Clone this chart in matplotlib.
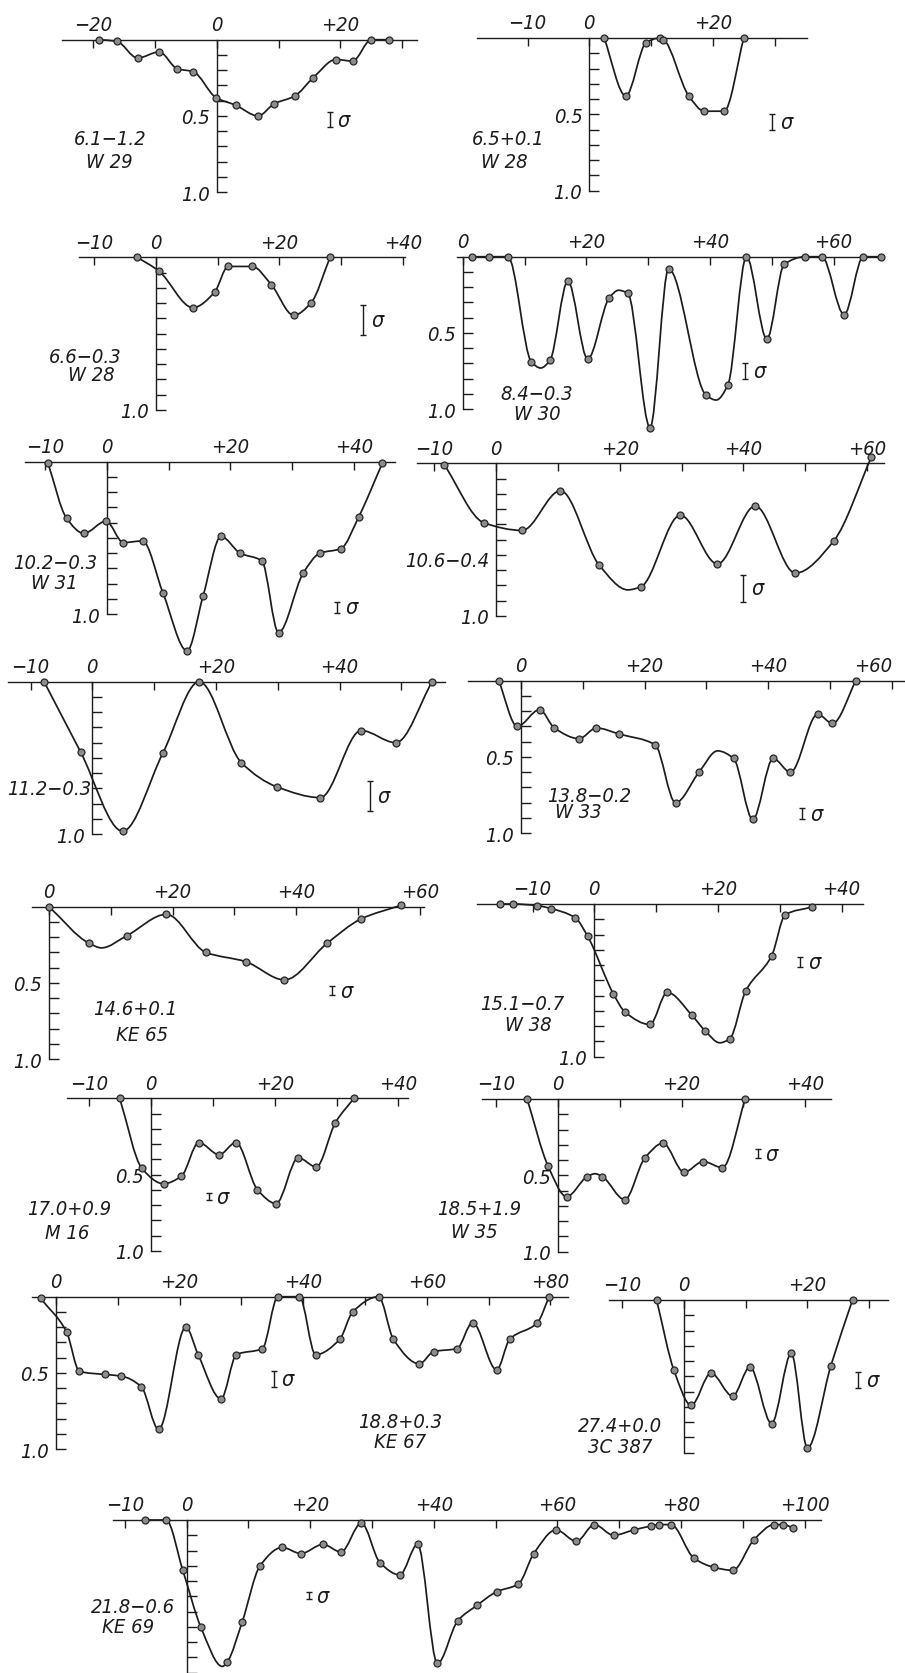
import numpy as np
import matplotlib
matplotlib.use("Agg")
import matplotlib.pyplot as plt
from matplotlib.path import Path
from matplotlib.patches import PathPatch
from matplotlib import font_manager

# ---- data: velocity (km/s) and optical depth ----
v1 = [-19.0, -16.2, -12.8, -9.3, -6.4, -3.8, -0.1, 3.1, 6.7, 9.3, 12.6, 15.6, 19.3, 22.0, 25.0, 27.9]
d1 = [0.0, 0.01, 0.12, 0.08, 0.19, 0.21, 0.38, 0.43, 0.50, 0.42, 0.37, 0.25, 0.13, 0.14, 0.0, 0.0]

v2 = [2.4, 5.9, 9.2, 11.4, 12.0, 16.1, 18.6, 21.8, 25.0]
d2 = [0.0, 0.38, 0.03, 0.0, 0.01, 0.38, 0.48, 0.48, 0.0]

v3 = [-3.0, 0.5, 6.0, 9.5, 11.7, 15.6, 18.7, 22.3, 25.1, 28.2]
d3 = [0.0, 0.09, 0.33, 0.23, 0.06, 0.06, 0.18, 0.38, 0.30, 0.0]

v4 = [1.5, 4.2, 7.3, 11.1, 14.1, 17.0, 20.2, 23.7, 26.7, 30.3, 33.3, 39.4, 42.9,
      45.9, 49.2, 52.0, 55.4, 58.1, 61.7, 64.8, 67.6]
d4 = [0.0, 0.0, 0.0, 0.69, 0.68, 0.16, 0.67, 0.27, 0.24, 1.12, 0.08, 0.91, 0.84,
      0.0, 0.54, 0.05, 0.0, 0.0, 0.38, 0.0, 0.0]
kv4 = [12.6, 25.2, 41.0]
kd4 = [0.73, 0.22, 0.94]

v5 = [-9.5, -6.5, -3.7, -0.1, 2.7, 5.8, 9.1, 13.0, 15.6, 18.5, 21.6, 25.1, 27.8,
      31.8, 34.5, 37.9, 40.8, 44.6]
d5 = [0.01, 0.37, 0.47, 0.39, 0.53, 0.52, 0.86, 1.24, 0.88, 0.49, 0.60, 0.65, 1.12,
      0.73, 0.60, 0.57, 0.36, 0.01]

v6 = [-8.4, -2.0, 4.2, 10.4, 16.7, 23.4, 29.8, 35.8, 41.9, 48.4, 54.6, 60.7]
d6 = [0.01, 0.39, 0.44, 0.18, 0.67, 0.81, 0.34, 0.66, 0.28, 0.72, 0.51, -0.04]
kv6 = [21.3]
kd6 = [0.83]

v7 = [-7.8, -1.9, 4.9, 11.4, 17.3, 24.1, 29.9, 36.9, 43.5, 49.1, 55.0]
d7 = [0.0, 0.46, 0.98, 0.47, 0.0, 0.53, 0.69, 0.76, 0.32, 0.40, 0.0]

v8 = [-3.6, -0.6, 3.0, 5.4, 9.4, 12.2, 15.9, 21.7, 25.0, 28.8, 34.4, 37.5, 40.8,
      43.6, 48.0, 50.4, 54.2]
d8 = [0.0, 0.30, 0.19, 0.31, 0.38, 0.31, 0.35, 0.42, 0.80, 0.60, 0.51, 0.91, 0.51,
      0.60, 0.22, 0.28, 0.0]
kv8 = [31.8]
kd8 = [0.46]

v9 = [0.0, 6.5, 12.6, 19.0, 25.4, 31.8, 38.1, 45.0, 50.5, 57.0]
d9 = [0.0, 0.24, 0.19, 0.05, 0.30, 0.36, 0.48, 0.24, 0.08, -0.01]
kv9 = [8.5]
kd9 = [0.27]

v10 = [-15.3, -13.2, -9.3, -7.0, -3.1, -1.1, 3.1, 5.0, 9.0, 11.8, 15.8, 17.9,
       21.9, 24.5, 28.7, 30.9, 35.2]
d10 = [0.0, 0.0, 0.01, 0.03, 0.09, 0.21, 0.59, 0.71, 0.79, 0.58, 0.73, 0.83,
       0.885, 0.57, 0.34, 0.07, 0.02]
kv10 = [20.3]
kd10 = [0.91]

v11 = [-5.1, -1.5, 2.0, 4.9, 7.7, 11.0, 13.7, 17.2, 20.2, 23.8, 26.7, 29.8, 32.8]
d11 = [0.0, 0.46, 0.56, 0.51, 0.29, 0.37, 0.29, 0.60, 0.69, 0.39, 0.45, 0.16, 0.0]

v12 = [-5.0, -1.6, 1.4, 4.7, 7.2, 10.8, 14.0, 17.0, 20.4, 23.5, 26.6, 30.3]
d12 = [0.0, 0.44, 0.64, 0.51, 0.51, 0.66, 0.39, 0.29, 0.48, 0.41, 0.45, 0.0]
kv12 = [6.0]
kd12 = [0.49]

v13 = [-2.5, 1.7, 3.8, 7.9, 10.5, 13.8, 16.6, 21.0, 23.0, 26.7, 29.2, 33.4, 35.9,
       39.4, 42.0, 45.9, 48.0, 52.2, 54.6, 58.8, 61.1, 64.9, 67.4, 71.3, 73.4, 77.9, 79.8]
d13 = [0.01, 0.23, 0.49, 0.51, 0.52, 0.59, 0.87, 0.20, 0.38, 0.67, 0.38, 0.34, 0.0,
       0.0, 0.38, 0.28, 0.10, 0.0, 0.28, 0.44, 0.36, 0.34, 0.17, 0.48, 0.28, 0.17, 0.0]

v14 = [-4.4, -1.6, 1.2, 4.4, 7.9, 10.7, 14.2, 17.4, 20.0, 23.8, 27.3]
d14 = [0.0, 0.46, 0.69, 0.48, 0.63, 0.44, 0.81, 0.35, 0.97, 0.43, 0.0]

v15 = [-6.7, -3.3, -0.6, 2.3, 6.6, 9.0, 11.9, 15.5, 18.5, 22.1, 25.0, 28.3, 31.3,
       34.5, 37.4, 40.6, 43.9, 47.0, 50.2, 53.7, 56.2, 59.8, 63.1, 66.0, 69.1, 72.4,
       75.1, 76.5, 78.4, 82.1, 85.3, 88.4, 91.8, 95.1, 96.5, 98.1]
d15 = [0.0, 0.0, 0.33, 0.70, 0.93, 0.67, 0.30, 0.18, 0.22, 0.16, 0.21, 0.02, 0.28,
       0.36, 0.16, 0.94, 0.66, 0.56, 0.47, 0.42, 0.22, 0.065, 0.14, 0.03, 0.10, 0.065,
       0.04, 0.03, 0.03, 0.25, 0.31, 0.33, 0.13, 0.03, 0.03, 0.05]
kv15 = [5.8]
kd15 = [0.96]

sources = [["6.1−1.2", "W 29"], ["6.5+0.1", "W 28"], ["6.6−0.3", "W 28"],
           ["8.4−0.3", "W 30"], ["10.2−0.3", "W 31"], ["10.6−0.4"], ["11.2−0.3"],
           ["13.8−0.2", "W 33"], ["14.6+0.1", "KE 65"], ["15.1−0.7", "W 38"],
           ["17.0+0.9", "M 16"], ["18.5+1.9", "W 35"], ["18.8+0.3", "KE 67"],
           ["27.4+0.0", "3C 387"], ["21.8−0.6", "KE 69"]]

# ---- layout (pixels of the 905x1674 page) ----
W, H = 905, 1674
SX = 6.18     # px per km/s
SY = 152.5    # px per unit depth


def pick_narrow_font():
    # look for a condensed / narrow italic face; fall back to DejaVu Sans
    best, best_score = None, None
    for f in font_manager.fontManager.ttflist:
        n = f.name
        st = f.stretch
        narrow = ("Narrow" in n or "Condensed" in n
                  or st in ("condensed", "semi-condensed")
                  or (isinstance(st, (int, float)) and 300 <= st < 500))
        if not narrow or "Extra" in n or "Ultra" in n:
            continue
        score = (0 if f.style in ("italic", "oblique") else 1,
                 0 if f.weight in (400, "normal", "regular") else 1,
                 0 if "Liberation" in n else 1)
        if best_score is None or score < best_score:
            best, best_score = f, score
    return best


nf = pick_narrow_font()
if nf is not None:
    FP = font_manager.FontProperties(fname=nf.fname, size=14.5)
else:
    FP = font_manager.FontProperties(family="DejaVu Sans", style="italic", size=13)
FS = FP.get_size()

INK = "#1c1c1c"

panels = [
    dict(v=v1, d=d1, org=(216.7, 40.7), ext=(-25.0, 32.4), xl=[-20, 0, 20], yl=[0.5, 1.0],
         txt=[(-17.3, 0.65), (-17.3, 0.80)], sig=(18.3, 0.476, 0.574)),
    dict(v=v2, d=d2, org=(589.3, 39.0), ext=(-18.2, 35.2), xl=[-10, 0, 20], yl=[0.5, 1.0],
         txt=[(-13.2, 0.66), (-13.7, 0.81)], sig=(29.6, 0.50, 0.60)),
    dict(v=v3, d=d3, org=(155.8, 258.3), ext=(-12.5, 40.3), xl=[-10, 0, 20, 40], yl=[1.0],
         txt=[(-11.4, 0.65), (-10.4, 0.77)], sig=(33.6, 0.31, 0.51)),
    dict(v=v4, d=d4, kv=kv4, kd=kd4, org=(462.8, 257.7), ext=(-1.0, 68.0), xl=[0, 20, 40, 60],
         yl=[0.5, 1.0], txt=[(12.0, 0.90), (12.0, 1.03)], sig=(45.7, 0.70, 0.80)),
    dict(v=v5, d=d5, org=(106.7, 462.7), ext=(-13.3, 46.7), xl=[-10, 0, 20, 40], yl=[1.0],
         txt=[(-8.4, 0.66), (-8.4, 0.79)], sig=(37.3, 0.92, 0.99)),
    dict(v=v6, d=d6, kv=kv6, kd=kd6, org=(496.2, 464.3), ext=(-12.8, 62.8),
         xl=[-10, 0, 20, 40, 60], yl=[1.0], txt=[(-7.9, 0.64)], sig=(40.0, 0.73, 0.91)),
    dict(v=v7, d=d7, org=(92.3, 682.7), ext=(-13.6, 57.0), xl=[-10, 0, 20, 40], yl=[1.0],
         txt=[(-7.0, 0.70)], sig=(44.9, 0.65, 0.85)),
    dict(v=v8, d=d8, kv=kv8, kd=kd8, org=(521.0, 681.7), ext=(-8.6, 62.0), xl=[0, 20, 40, 60],
         yl=[0.5, 1.0], txt=[(11.0, 0.75), (9.2, 0.86)], sig=(45.5, 0.835, 0.91)),
    dict(v=v9, d=d9, kv=kv9, kd=kd9, org=(49.0, 907.7), ext=(-2.8, 60.7), xl=[0, 20, 40, 60],
         yl=[0.5, 1.0], txt=[(14.0, 0.67), (15.0, 0.835)], sig=(45.8, 0.52, 0.58)),
    dict(v=v10, d=d10, kv=kv10, kd=kd10, org=(594.3, 905.0), ext=(-19.0, 43.4),
         xl=[-10, 0, 20, 40], yl=[1.0], txt=[(-11.6, 0.655), (-10.7, 0.79)], sig=(33.3, 0.35, 0.41)),
    dict(v=v11, d=d11, org=(151.2, 1099.3), ext=(-13.6, 41.6), xl=[-10, 0, 20, 40], yl=[0.5, 1.0],
         txt=[(-13.2, 0.725), (-13.6, 0.877)], sig=(9.3, 0.62, 0.67)),
    dict(v=v12, d=d12, kv=kv12, kd=kd12, org=(558.0, 1100.0), ext=(-12.3, 44.2),
         xl=[-10, 0, 20, 40], yl=[0.5, 1.0], txt=[(-12.7, 0.72), (-13.6, 0.87)], sig=(32.3, 0.33, 0.39)),
    dict(v=v13, d=d13, org=(56.0, 1297.7), ext=(-3.9, 82.8), xl=[0, 20, 40, 60, 80], yl=[0.5, 1.0],
         txt=[(55.7, 0.82), (55.7, 0.95)], sig=(35.2, 0.485, 0.59)),
    dict(v=v14, d=d14, org=(683.8, 1301.0), ext=(-12.1, 33.1), xl=[-10, 0, 20], yl=[],
         txt=[(-10.3, 0.82), (-10.3, 0.96)], sig=(28.2, 0.47, 0.58)),
    dict(v=v15, d=d15, kv=kv15, kd=kd15, org=(186.5, 1521.0), ext=(-11.9, 102.6),
         xl=[-10, 0, 20, 40, 60, 80, 100], yl=[], txt=[(-8.7, 0.57), (-9.5, 0.70)],
         sig=(19.8, 0.475, 0.52)),
]


def smooth_path(x, y):
    # monotone cubic (Fritsch-Carlson) through the nodes, drawn as Bezier segments
    x = np.asarray(x, float)
    y = np.asarray(y, float)
    h = np.diff(x)
    dl = np.diff(y) / h
    m = np.zeros(len(x))
    m[0], m[-1] = dl[0], dl[-1]
    for i in range(1, len(x) - 1):
        if dl[i - 1] * dl[i] > 0:
            w1 = 2 * h[i] + h[i - 1]
            w2 = h[i] + 2 * h[i - 1]
            m[i] = (w1 + w2) / (w1 / dl[i - 1] + w2 / dl[i])
    verts = [(x[0], y[0])]
    codes = [Path.MOVETO]
    for i in range(len(x) - 1):
        verts += [(x[i] + h[i] / 3, y[i] + m[i] * h[i] / 3),
                  (x[i + 1] - h[i] / 3, y[i + 1] - m[i + 1] * h[i] / 3),
                  (x[i + 1], y[i + 1])]
        codes += [Path.CURVE4] * 3
    return Path(verts, codes)


def vlabel(t):
    if t > 0:
        return "+%d" % t
    if t < 0:
        return "−%d" % -t
    return "0"


fig = plt.figure(figsize=(W / 100, H / 100), dpi=100)
fig.patch.set_facecolor("white")

YTOP, YBOT, PADX = -0.12, 1.32, 3.0

for p, src in zip(panels, sources):
    vx, hy = p["org"]
    lo, hi = p["ext"]
    left = vx + (lo - PADX) * SX
    right = vx + (hi + PADX) * SX
    top = hy + YTOP * SY
    bot = hy + YBOT * SY
    ax = fig.add_axes([left / W, 1 - bot / H, (right - left) / W, (bot - top) / H])
    ax.set_xlim(lo - PADX, hi + PADX)
    ax.set_ylim(YBOT, YTOP)
    ax.patch.set_visible(False)
    ax.spines["bottom"].set_visible(False)
    ax.spines["right"].set_visible(False)
    ax.spines["top"].set_position(("data", 0))
    ax.spines["top"].set_bounds(lo, hi)
    ax.spines["left"].set_position(("data", 0))
    ax.spines["left"].set_bounds(0, 1.0)
    for s in ("top", "left"):
        ax.spines[s].set_linewidth(1.0)
        ax.spines[s].set_color(INK)

    ticks = np.arange(np.ceil(lo / 10) * 10, hi + 0.01, 10)
    ax.xaxis.set_ticks_position("top")
    ax.set_xticks(ticks, [vlabel(int(t)) if int(t) in p["xl"] else "" for t in ticks])
    ax.tick_params(axis="x", direction="in", length=6, width=1.0, pad=4, colors=INK)
    yt = np.round(np.arange(0.1, 1.001, 0.1), 1)
    ax.set_yticks(yt, ["%.1f" % t if t in p["yl"] else "" for t in yt])
    ax.tick_params(axis="y", direction="in", length=7, width=1.0, pad=5, colors=INK)
    for lab in ax.get_xticklabels() + ax.get_yticklabels():
        lab.set_fontproperties(FP)
    # the right-most label of a panel that runs to the page edge
    xlabs = ax.get_xticklabels()
    if vx + hi * SX > W - 20 and xlabs[-1].get_text():
        xlabs[-1].set_horizontalalignment("right")

    cv = list(p["v"]) + list(p.get("kv", []))
    cd = list(p["d"]) + list(p.get("kd", []))
    order = np.argsort(cv)
    path = smooth_path(np.array(cv)[order], np.array(cd)[order])
    ax.add_patch(PathPatch(path, fill=False, lw=1.25, ec=INK, clip_on=False,
                           capstyle="round", joinstyle="round", zorder=2))
    ax.plot(p["v"], p["d"], "o", ms=5, mfc="#8c8c8c", mec="#262626", mew=0.9,
            clip_on=False, zorder=3)

    for line, (tx, ty) in zip(src, p["txt"]):
        ax.text(tx, ty, line, ha="center", va="center", fontproperties=FP, color=INK)

    sx, s0, s1 = p["sig"]
    ax.errorbar([sx], [(s0 + s1) / 2], yerr=[(s1 - s0) / 2], fmt="none",
                ecolor=INK, elinewidth=1.0, capsize=2.5, capthick=1.0)
    ax.text(sx + 1.3, (s0 + s1) / 2, "σ", ha="left", va="center",
            fontproperties=FP, fontsize=FS + 1, color=INK)

fig.savefig("out.png", dpi=100, facecolor="white")
